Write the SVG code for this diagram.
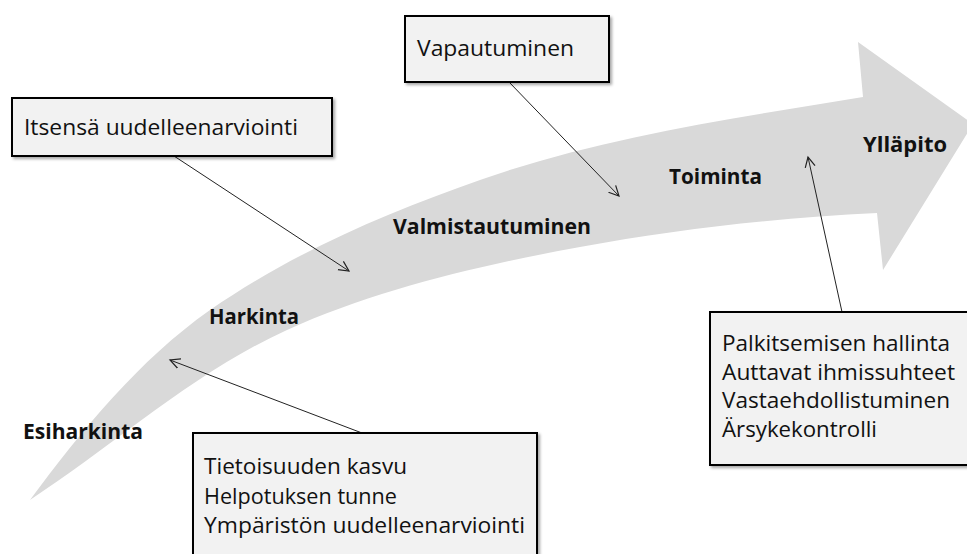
<svg xmlns="http://www.w3.org/2000/svg" width="967" height="554" viewBox="0 0 967 554">
  <style>
    .box { fill: #f2f2f2; stroke: #000; stroke-width: 2; filter: url(#shadow); }
    .txt { font-family: "Open Sans", "Liberation Sans", sans-serif; font-size: 21px; fill: #111; }
    .lbl { font-family: "Open Sans", "Liberation Sans", sans-serif; font-size: 22px; font-weight: bold; fill: #111; }
    .conn { stroke: #222; stroke-width: 1; fill: none; marker-end: url(#open); }
  </style>
  <defs>
    <filter id="shadow" x="-10%" y="-10%" width="130%" height="140%">
      <feDropShadow dx="2" dy="2" stdDeviation="1.5" flood-color="#000" flood-opacity="0.35"/>
    </filter>
    <marker id="open" markerWidth="12" markerHeight="12" refX="10" refY="5" orient="auto" markerUnits="userSpaceOnUse" viewBox="0 0 12 10">
      <path d="M0,0 L10,5 L0,10" fill="none" stroke="#222" stroke-width="1.2"/>
    </marker>
  </defs>

  <g id="arrow">
    <path d="M30,500 C82,430 139,360 210,310 C292,253 386,213 480,180 C602,137 735,118 863,97 L858,42 L973,124 L883,270 L877,213 C777,218 678,229 580,247 C482,265 378,289 287,330 C196,371 114,445 30,500 Z" fill="#d9d9d9"/>
  </g>

  <g id="stage-labels">
    <text class="lbl" x="23" y="439" textLength="120" lengthAdjust="spacingAndGlyphs">Esiharkinta</text>
    <text class="lbl" x="209" y="324" textLength="90" lengthAdjust="spacingAndGlyphs">Harkinta</text>
    <text class="lbl" x="393" y="234" textLength="198" lengthAdjust="spacingAndGlyphs">Valmistautuminen</text>
    <text class="lbl" x="669" y="184" textLength="93" lengthAdjust="spacingAndGlyphs">Toiminta</text>
    <text class="lbl" x="863" y="152" textLength="84" lengthAdjust="spacingAndGlyphs">Ylläpito</text>
  </g>

  <g id="connectors">
    <line class="conn" x1="174" y1="156" x2="349" y2="271"/>
    <line class="conn" x1="509" y1="82" x2="619" y2="196"/>
    <line class="conn" x1="362" y1="433" x2="170" y2="360"/>
    <line class="conn" x1="842" y1="312" x2="808" y2="157"/>
  </g>

  <g id="box-itsensa">
    <rect class="box" x="12" y="98" width="320" height="58"/>
    <text class="txt" x="24" y="135" textLength="274" lengthAdjust="spacingAndGlyphs">Itsensä uudelleenarviointi</text>
  </g>

  <g id="box-vapautuminen">
    <rect class="box" x="405" y="16" width="204" height="66"/>
    <text class="txt" x="417" y="56" textLength="157" lengthAdjust="spacingAndGlyphs">Vapautuminen</text>
  </g>

  <g id="box-bottom">
    <rect class="box" x="193" y="433" width="344" height="140"/>
    <text class="txt" x="204" y="474" textLength="203" lengthAdjust="spacingAndGlyphs">Tietoisuuden kasvu</text>
    <text class="txt" x="204" y="504" textLength="193" lengthAdjust="spacingAndGlyphs">Helpotuksen tunne</text>
    <text class="txt" x="204" y="533" textLength="321" lengthAdjust="spacingAndGlyphs">Ympäristön uudelleenarviointi</text>
  </g>

  <g id="box-right">
    <rect class="box" x="710" y="312" width="280" height="153"/>
    <text class="txt" x="722" y="351" textLength="228" lengthAdjust="spacingAndGlyphs">Palkitsemisen hallinta</text>
    <text class="txt" x="722" y="380" textLength="233" lengthAdjust="spacingAndGlyphs">Auttavat ihmissuhteet</text>
    <text class="txt" x="722" y="408" textLength="228" lengthAdjust="spacingAndGlyphs">Vastaehdollistuminen</text>
    <text class="txt" x="722" y="437" textLength="155" lengthAdjust="spacingAndGlyphs">Ärsykekontrolli</text>
  </g>
</svg>
